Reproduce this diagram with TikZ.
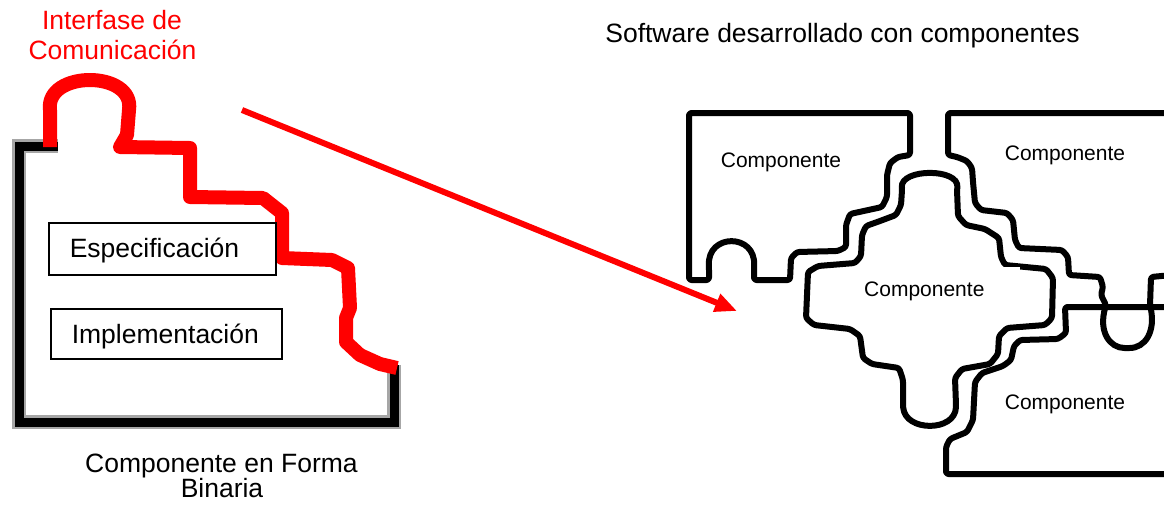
\documentclass[tikz,border=0pt]{standalone}
\usepackage{fontspec}
\setmainfont{Liberation Sans}
\usetikzlibrary{arrows.meta}
\tikzset{
  caption/.style={font=\fontsize{26.5}{30}\selectfont, inner sep=0pt, anchor=base},
  plabel/.style={font=\fontsize{21}{25}\selectfont, inner sep=0pt, anchor=base},
  tbox/.style={draw=black, line width=1.6pt, font=\fontsize{26.5}{30}\selectfont,
    anchor=north west, inner ysep=0pt, inner xsep=21pt, align=left, text height=35pt},
  wallhalo/.style={draw=black!35, line width=14pt},
  wall/.style={draw=black, line width=9pt},
  redwall/.style={draw=red, line width=14pt, line join=round},
  piece/.style={draw=black, line width=6pt, line join=round, rounded corners=2.5pt},
  link/.style={draw=red, line width=6pt, -{Triangle[length=22pt,width=18pt]}}
}
\begin{document}
\begin{tikzpicture}[x=1pt,y=-1pt]
\useasboundingbox (0,0) rectangle (1164,504);

% binary component: black body with red communication interface
\draw[wallhalo] (58,146) -- (19,146) -- (19,422) -- (394,422) -- (394,365);
\draw[wall] (58,146) -- (19,146) -- (19,422) -- (394,422) -- (394,365);
\draw[redwall] (50,147) -- (50,110) .. controls (45,70) and (135,70) .. (129,110)
  -- (127,135) -- (120,147) -- (190,148) -- (190,197) -- (263,198) -- (282,213)
  -- (282,258) -- (332,260) -- (348,268) -- (350,308) -- (346,318) -- (346,342)
  -- (360,355) -- (380,364) -- (397,368);

\node[tbox, text width=185pt, text depth=17pt] (spec) at (48,222) {Especificación};
\node[tbox, text width=189pt, text depth=15pt] (impl) at (50,308) {Implementación};

\node[caption, text=red] (iface1) at (112,29) {Interfase de};
\node[caption, text=red] (iface2) at (112.5,59) {Comunicación};
\node[caption] (bin1) at (221.5,472) {Componente en Forma};
\node[caption] (bin2) at (222,497) {Binaria};
\node[caption] (title) at (842.5,42) {Software desarrollado con componentes};

% assembled puzzle of components
\begin{scope}
\clip (0,0) rectangle (1164,504);
% top left piece
\draw[piece] (689,113) -- (910,113) -- (910,155) -- (898,157) -- (890,163) -- (887,175)
  -- (887,197) -- (882,207) -- (850,214) -- (846,225) -- (846,247) -- (838,251)
  -- (797,252) -- (791,258) -- (790,280) -- (754,280) -- (754,268)
  .. controls (756,233) and (707,233) .. (709,268) -- (709,280) -- (689,280) -- cycle;
% central cross-shaped piece
\draw[piece] (902,190) -- (901,205) -- (896,215) -- (880,221) -- (866,226) -- (862,235)
  -- (861,256) -- (855,263) -- (818,266) -- (808,272) -- (806,318) -- (814,325)
  -- (850,329) -- (860,336) -- (863,358) -- (872,364) -- (899,368) -- (903,380)
  -- (903,405) .. controls (905,432) and (955,432) .. (956,405) -- (955,378)
  -- (962,369) -- (990,364) -- (998,354) -- (999,336) -- (1007,328) -- (1045,325)
  -- (1052,318) -- (1053,278) -- (1046,269) -- (1005,265) -- (1001,257) -- (999,238)
  -- (985,229) -- (966,225) -- (958,216) -- (957,190)
  .. controls (960,168) and (900,168) .. (902,190) -- cycle;
% top right piece
\draw[piece] (1172,113) -- (948,113) -- (948,155) -- (957,157) -- (967,161) -- (972,168)
  -- (973,182) -- (975,203) -- (981,210) -- (1007,213) -- (1013,220) -- (1015,240)
  -- (1019,248) -- (1062,250) -- (1068,257) -- (1069,275) -- (1100,277) -- (1103,287)
  -- (1101,295) -- (1106,305) .. controls (1098,332) and (1110,348) .. (1127,348)
  .. controls (1145,348) and (1156,332) .. (1150,305) -- (1151,277) -- (1172,275);
% bottom right piece
\draw[piece] (1172,307) -- (1065,307) -- (1066,333) -- (1058,339) -- (1020,340)
  -- (1014,346) -- (1011,360) -- (1003,366) -- (982,373) -- (975,382) -- (973,420)
  -- (967,432) -- (950,439) -- (946,447) -- (946,474) -- (1172,474);
\end{scope}

\node[plabel] (ctl) at (781,167) {Componente};
\node[plabel] (ctr) at (1065,160) {Componente};
\node[plabel] (cbr) at (1065,409) {Componente};
\node[plabel, fill=white, anchor=north west, inner xsep=19pt, inner ysep=0pt,
  text width=137pt, align=left, text height=29pt, text depth=14pt] (cmid) at (845,267) {Componente};

% arrow from the binary component to the assembled software
\coordinate (arrowfrom) at (242,110);
\coordinate (arrowto) at (737,311);
\draw[link] (arrowfrom) -- (arrowto);
\end{tikzpicture}
\end{document}
